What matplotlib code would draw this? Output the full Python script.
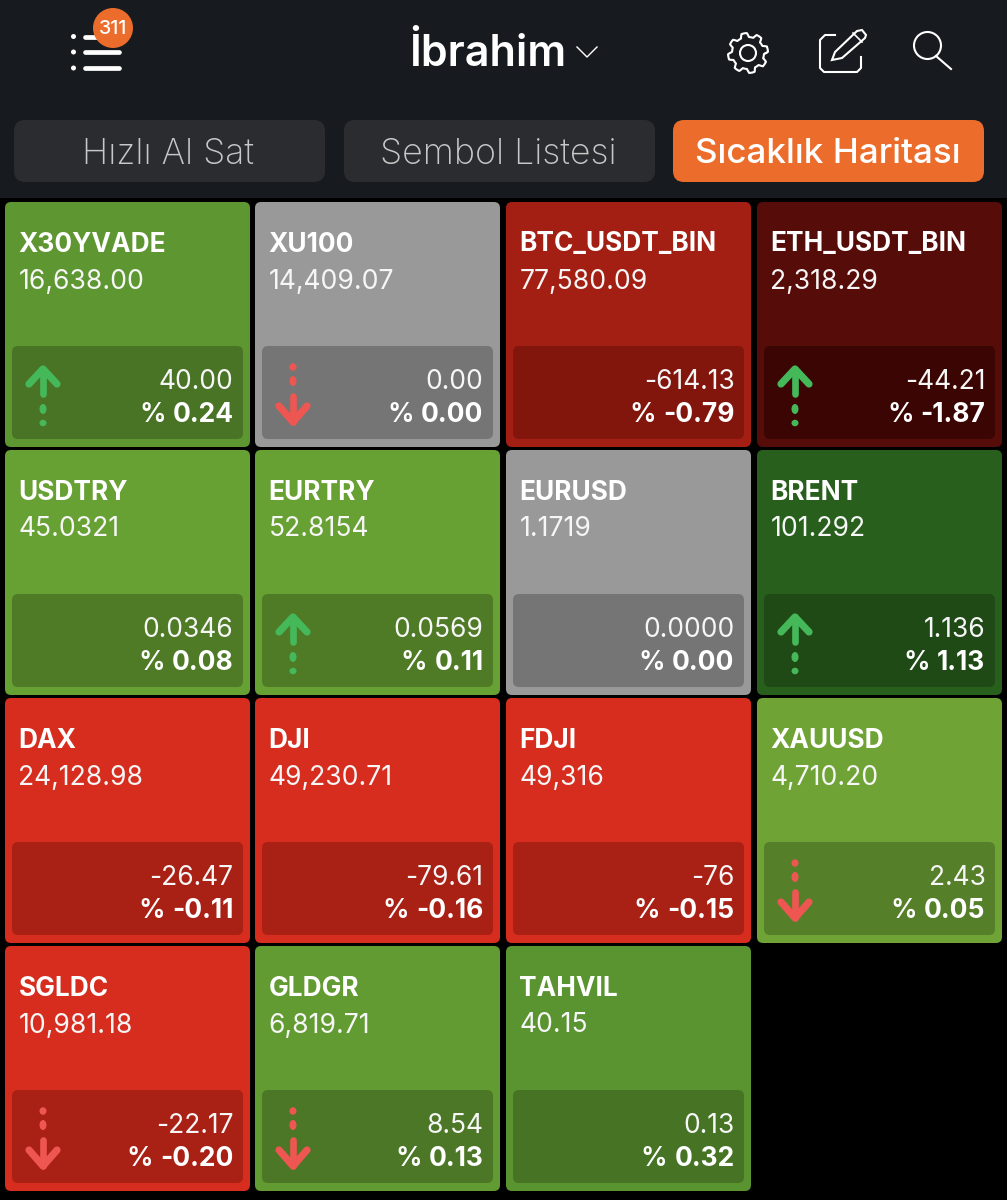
#!/usr/bin/env python3
import numpy as np
import matplotlib
matplotlib.use('Agg')
import matplotlib.pyplot as plt
from matplotlib.patches import FancyBboxPatch, Circle, Rectangle, Polygon, Ellipse

plt.rcParams['font.family'] = ['Inter', 'DejaVu Sans']

# tile data, row by row
symbols = ['X30YVADE', 'XU100', 'BTC_USDT_BIN', 'ETH_USDT_BIN',
           'USDTRY', 'EURTRY', 'EURUSD', 'BRENT',
           'DAX', 'DJI', 'FDJI', 'XAUUSD',
           'SGLDC', 'GLDGR', 'TAHVIL']
prices = ['16,638.00', '14,409.07', '77,580.09', '2,318.29',
          '45.0321', '52.8154', '1.1719', '101.292',
          '24,128.98', '49,230.71', '49,316', '4,710.20',
          '10,981.18', '6,819.71', '40.15']
changes = ['40.00', '0.00', '-614.13', '-44.21',
           '0.0346', '0.0569', '0.0000', '1.136',
           '-26.47', '-79.61', '-76', '2.43',
           '-22.17', '8.54', '0.13']
percents = ['0.24', '0.00', '-0.79', '-1.87',
            '0.08', '0.11', '0.00', '1.13',
            '-0.11', '-0.16', '-0.15', '0.05',
            '-0.20', '0.13', '0.32']
arrows = ['up', 'down', None, 'up',
          None, 'up', None, 'up',
          None, None, None, 'down',
          'down', 'down', None]
colors = ['#5e9631', '#999999', '#a31f13', '#560c08',
          '#67a033', '#67a033', '#999999', '#285f1c',
          '#d62d1e', '#d62d1e', '#d62d1e', '#6fa335',
          '#d62d1e', '#629b31', '#5a9430']
panels = ['#4a7425', '#757575', '#82160d', '#3b0503',
          '#4f7b27', '#4f7b27', '#757575', '#1f4a15',
          '#a92015', '#a92015', '#a92015', '#557f29',
          '#a92015', '#4c7726', '#467324']
tabs = ['Hızlı Al Sat', 'Sembol Listesi', 'Sıcaklık Haritası']

COL_X = [5, 255, 506, 757]
ROW_Y = [202, 450, 698, 946]
SIZE = 245
UP_COLOR = '#45b85a'
DOWN_COLOR = '#ee5652'


def rbox(ax, x, y, w, h, r, color, z=1):
    ax.add_patch(FancyBboxPatch((x + r, y + r), w - 2 * r, h - 2 * r,
                                boxstyle='round,pad=%f,rounding_size=%f' % (r, r),
                                fc=color, ec='none', zorder=z))


def arrow_up(ax, x, y, color):
    ax.plot([x, x], [y + 167, y + 192], color=color, lw=4.8, solid_capstyle='round', zorder=4)
    ax.plot([x - 14, x, x + 14], [y + 182, y + 167, y + 182], color=color, lw=5.2,
            solid_capstyle='round', solid_joinstyle='round', zorder=4)
    ax.add_patch(Ellipse((x, y + 207), 7, 10, fc=color, ec='none', zorder=4))
    ax.add_patch(Ellipse((x, y + 221), 7, 6.5, fc=color, ec='none', zorder=4))


def arrow_down(ax, x, y, color):
    ax.plot([x, x], [y + 194, y + 220], color=color, lw=4.8, solid_capstyle='round', zorder=4)
    ax.plot([x - 14, x, x + 14], [y + 204, y + 220, y + 204], color=color, lw=5.2,
            solid_capstyle='round', solid_joinstyle='round', zorder=4)
    ax.add_patch(Ellipse((x, y + 165), 7, 7.5, fc=color, ec='none', zorder=4))
    ax.add_patch(Ellipse((x, y + 179), 7, 10, fc=color, ec='none', zorder=4))


def tile(ax, i):
    x = COL_X[i % 4]
    y = ROW_Y[i // 4]
    rbox(ax, x, y, SIZE, SIZE, 6, colors[i])
    rbox(ax, x + 7, y + 144, SIZE - 14, 93, 6, panels[i], 2)
    ax.text(x + 13.5, y + 42.5, symbols[i], color='white', fontsize=18.9, fontweight='bold',
            va='center', ha='left', zorder=5)
    ax.text(x + 13.5, y + 79.5, prices[i], color='#f6f6f6', fontsize=19.1, fontweight='normal',
            va='center', ha='left', zorder=5)
    rx = x + 228.5
    ax.text(rx, y + 180, changes[i], color='#f6f6f6', fontsize=19, fontweight='normal',
            va='center', ha='right', zorder=5)
    t = ax.text(rx, y + 213, percents[i], color='white', fontsize=19, fontweight='bold',
                va='center', ha='right', zorder=5)
    bb = t.get_window_extent(ax.figure.canvas.get_renderer())
    ax.text(rx - bb.width - 7, y + 213, '%', color='white', fontsize=19, fontweight='semibold',
            va='center', ha='right', zorder=5)
    if arrows[i] == 'up':
        arrow_up(ax, x + 38, y, UP_COLOR)
    elif arrows[i] == 'down':
        arrow_down(ax, x + 38, y, DOWN_COLOR)


def header(ax):
    ax.add_patch(Rectangle((0, 0), 1007, 198, fc='#171b1f', ec='none', zorder=0))

    # list icon with badge
    for yy in (36.5, 52, 68):
        ax.add_patch(Circle((73.5, yy), 2.5, fc='white', ec='none', zorder=2))
        ax.plot([85, 119], [yy, yy], color='white', lw=3.4, solid_capstyle='round', zorder=2)
    ax.add_patch(Circle((113, 28), 20, fc='#ec6d2b', ec='none', zorder=3))
    ax.text(113, 29, '311', color='white', fontsize=14, fontweight='medium', ha='center',
            va='center', zorder=4)

    ax.text(488, 54, 'İbrahim', color='white', fontsize=31, fontweight='semibold',
            ha='center', va='center', zorder=2)
    ax.plot([577, 587, 597], [47, 57, 47], color='white', lw=1.0, zorder=2)

    # gear
    ang = np.linspace(0, 2 * np.pi, 400)
    rad = 18 + 2 * np.clip(2.2 * np.cos(8 * ang + np.pi / 8 * 4), -1, 1)
    ax.plot(748 + rad * np.cos(ang), 53 + rad * np.sin(ang), color='white', lw=1.5, zorder=2)
    ax.add_patch(Circle((748, 53), 8, fc='none', ec='white', lw=1.5, zorder=2))

    # edit icon
    ax.plot([835, 825, 820, 820, 824, 857, 861, 861],
            [35, 35, 40, 68, 72, 72, 68, 57], color='white', lw=1.5, zorder=2)
    ax.add_patch(Polygon([[832, 60], [835, 52], [857, 31], [862, 30], [866, 35], [865, 38], [842, 58]],
                         closed=True, fc='none', ec='white', lw=1.5, zorder=2))
    ax.plot([853, 862], [33, 42], color='white', lw=1.2, zorder=2)

    # search icon
    ax.add_patch(Circle((927.5, 45.5), 13.5, fc='none', ec='white', lw=1.5, zorder=2))
    ax.plot([936, 951], [56, 69], color='white', lw=1.5, zorder=2)

    tab_x = [14, 344, 673]
    tab_fc = ['#2a2c2f', '#2a2c2f', '#ec6d2b']
    tab_tc = ['#c8c8c8', '#c8c8c8', 'white']
    tab_w = ['light', 'light', 'medium']
    tab_s = [25.7, 25.7, 25.2]
    for j in range(len(tabs)):
        rbox(ax, tab_x[j], 120, 311, 62, 11, tab_fc[j])
        ax.text(tab_x[j] + 154.5, 154, tabs[j], color=tab_tc[j], fontsize=tab_s[j], fontweight=tab_w[j],
                ha='center', va='center', zorder=2)


def main():
    fig = plt.figure(figsize=(10.07, 12), dpi=100, facecolor='black')
    ax = fig.add_axes([0, 0, 1, 1])
    ax.set_xlim(0, 1007)
    ax.set_ylim(1200, 0)
    ax.axis('off')

    header(ax)
    for i in range(len(symbols)):
        tile(ax, i)

    fig.savefig('out.png', dpi=100, facecolor='black')


if __name__ == '__main__':
    main()
